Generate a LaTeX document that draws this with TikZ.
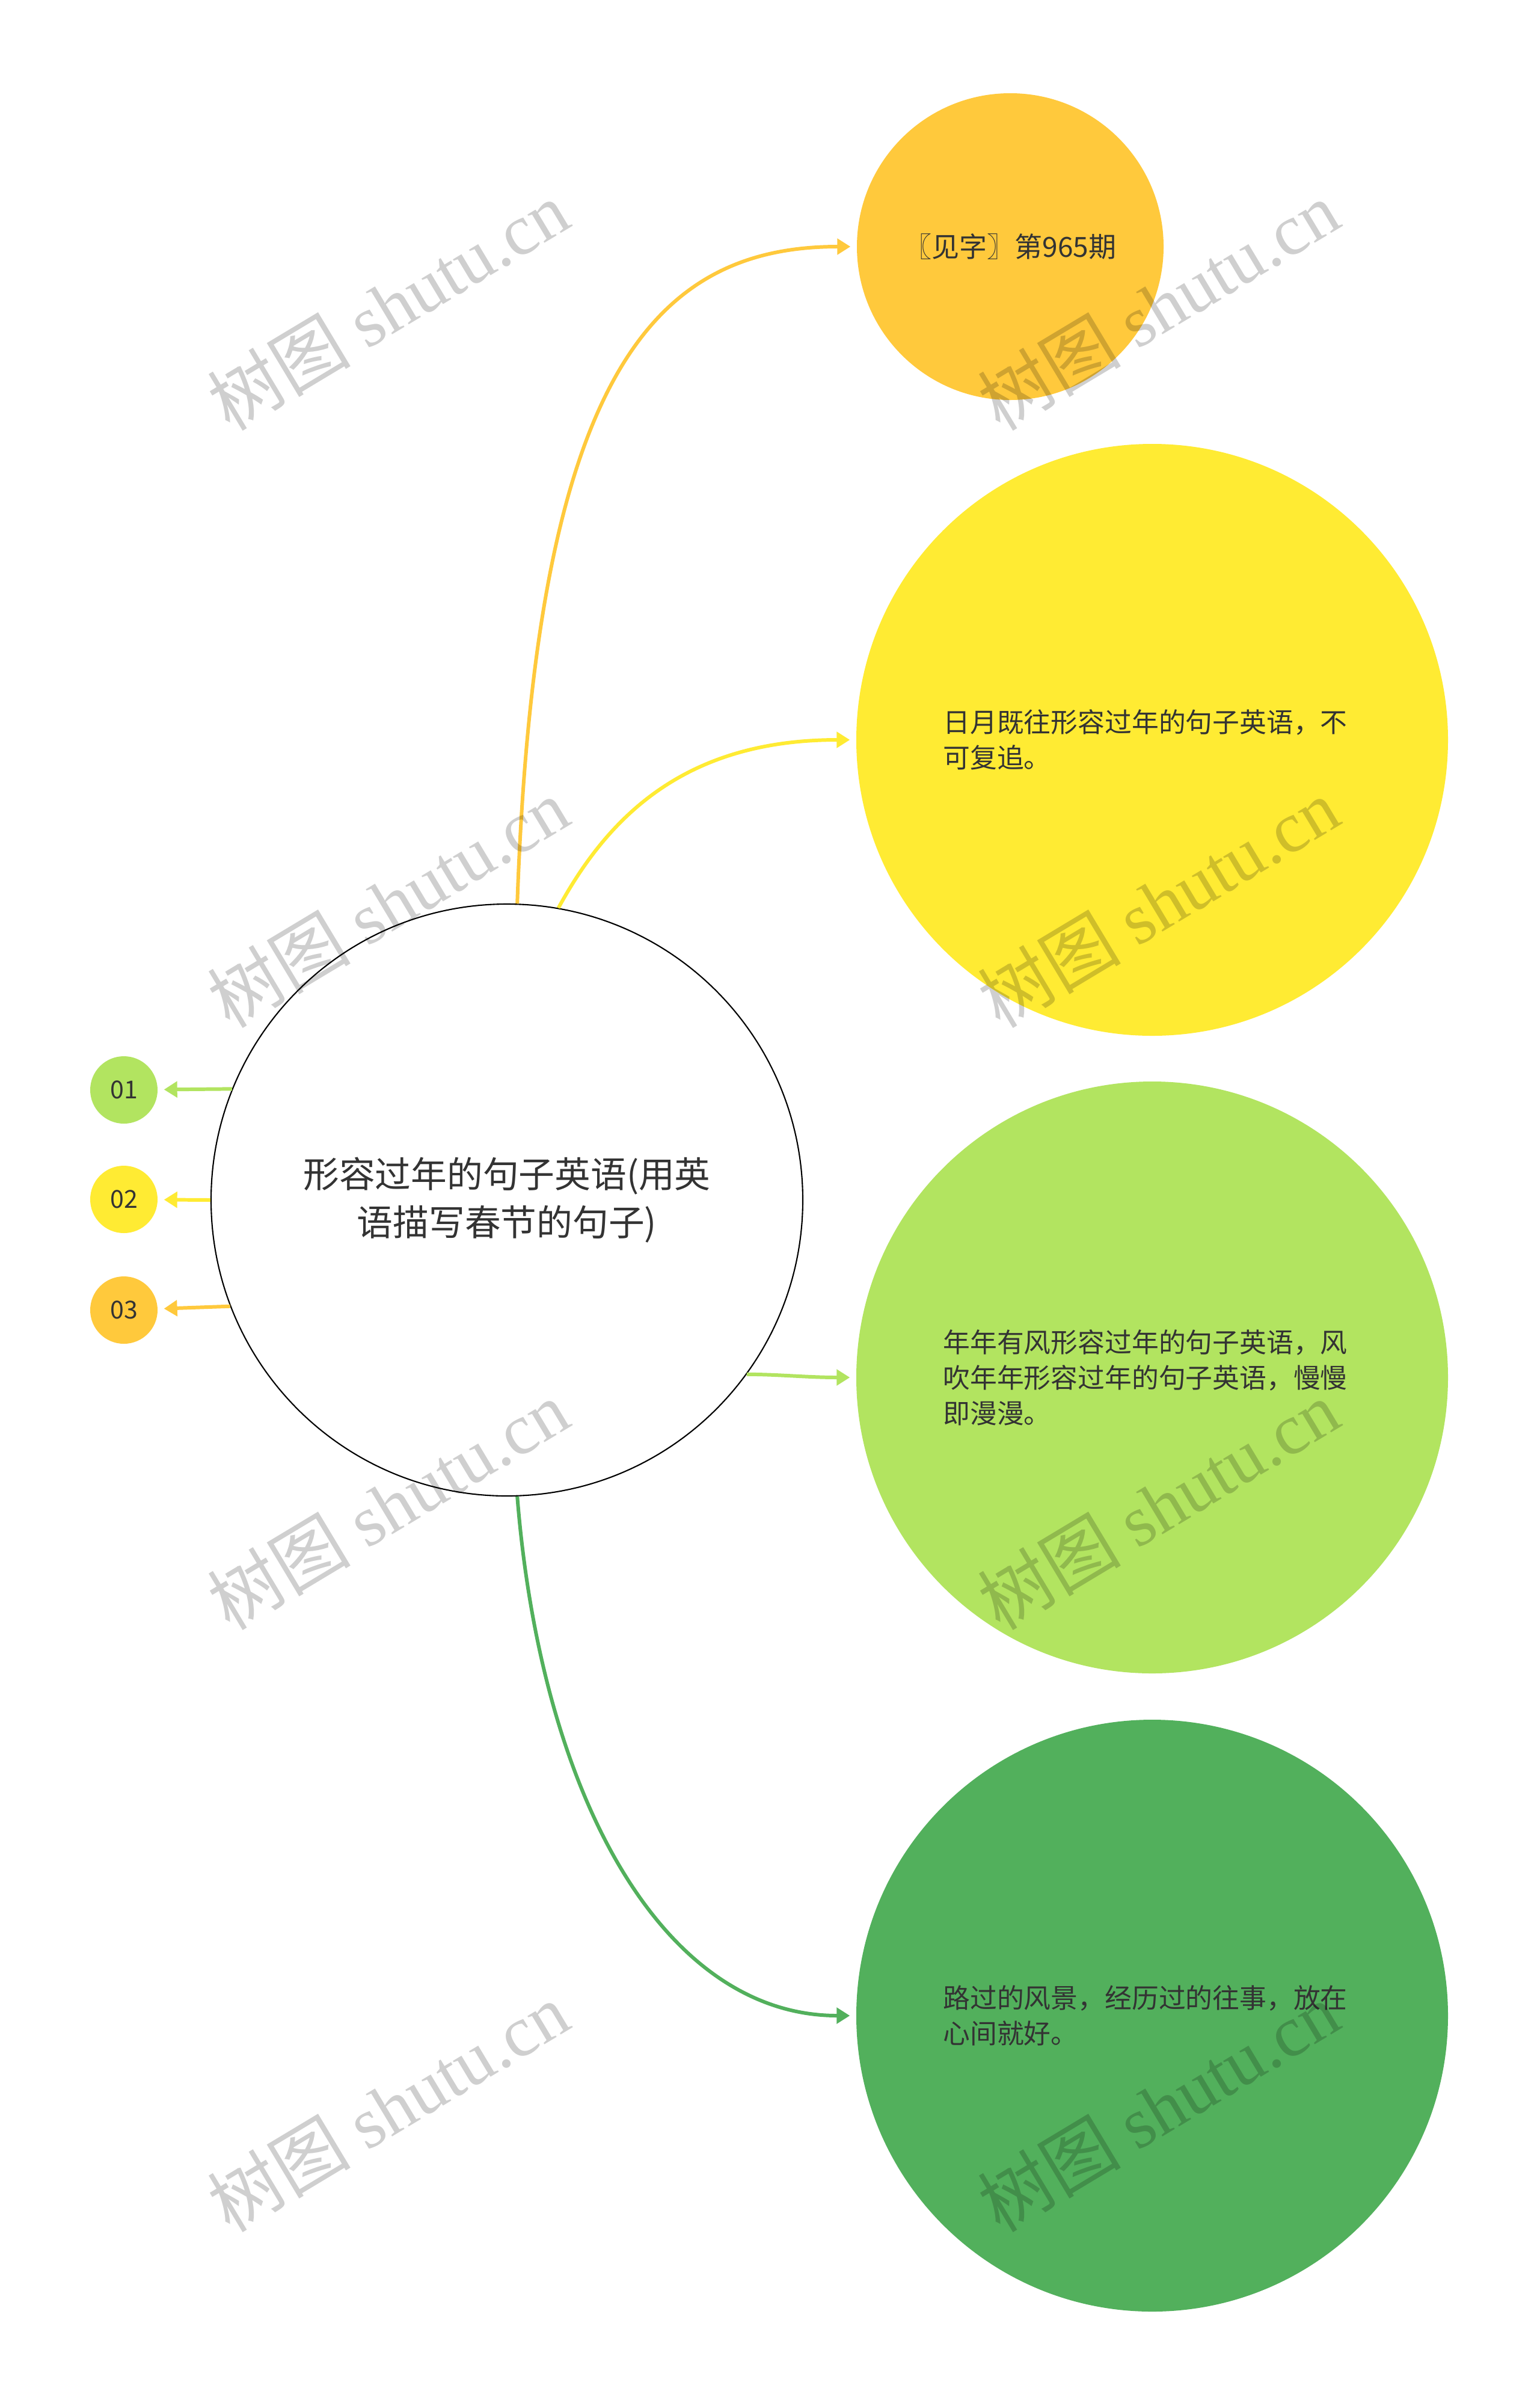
\documentclass[tikz,border=0pt]{standalone}
\usepackage{fontspec}
\setmainfont{Noto Sans CJK SC}
\newfontfamily\wmlatin{Liberation Serif}
\usepackage{tikz}
\usetikzlibrary{arrows.meta,calc}
\definecolor{stOrange}{RGB}{255,201,60}
\definecolor{stYellow}{RGB}{255,235,51}
\definecolor{stLime}{RGB}{178,228,96}
\definecolor{stGreen}{RGB}{82,176,92}
\definecolor{stText}{RGB}{51,51,51}
\tikzset{
  rootnode/.style={circle, draw=black, line width=0.6pt, fill=white, minimum size=9.84cm,
    inner sep=0pt, align=center, text=stText, font=\fontsize{17}{22.5}\selectfont},
  topicnode/.style={circle, draw=none, minimum size=9.84cm, inner sep=0pt, text width=6.95cm,
    align=left, text=stText, font=\fontsize{12.75}{16.8}\selectfont},
  smalltopic/.style={circle, draw=none, minimum size=5.1cm, inner sep=0pt, align=center,
    text=stText, font=\fontsize{13.1}{16}\selectfont},
  indexnode/.style={circle, draw=none, minimum size=1.12cm, inner sep=0pt, text=stText,
    font=\fontsize{11.7}{14}\selectfont},
  linkarrow/.style={line width=1.7pt, -{Triangle[length=2.2mm,width=2.6mm]}, shorten >=1mm},
  watermark/.style={rotate=31, inner sep=0pt, text=black, text opacity=0.19,
    font=\fontsize{34}{34}\selectfont},
}

\begin{document}
\begin{tikzpicture}[x=1cm,y=1cm]
  \fill[white] (0,0) rectangle (25.60,-39.95);
  \useasboundingbox (0,0) rectangle (25.60,-39.95);

  % --- Root and topics ---
  \node[rootnode] (root) at (8.43,-19.95) {形容过年的句子英语(用英\\语描写春节的句子)};
  \node[smalltopic, fill=stOrange] (issue) at (16.80,-4.10) {〖见字〗第965期};
  \node[topicnode, fill=stYellow] (days) at (19.16,-12.30)
    {日月既往形容过年的句子英语，不\\可复追。};
  \node[topicnode, fill=stLime] (wind) at (19.16,-22.90)
    {年年有风形容过年的句子英语，风\\吹年年形容过年的句子英语，慢慢\\即漫漫。};
  \node[topicnode, fill=stGreen] (past) at (19.16,-33.51)
    {路过的风景，经历过的往事，放在\\心间就好。};

  % --- Index markers ---
  \node[indexnode, fill=stLime] (idx1) at (2.06,-18.12) {01};
  \node[indexnode, fill=stYellow] (idx2) at (2.06,-19.94) {02};
  \node[indexnode, fill=stOrange] (idx3) at (2.06,-21.78) {03};

  % --- Links ---
  \draw[linkarrow, stOrange] (root.88) .. controls +(0.30,8.66) and +(-3.44,0) .. (issue.west);
  \draw[linkarrow, stYellow] (root.80) .. controls +(0.80,1.46) and +(-2.90,0) .. (days.west);
  \draw[linkarrow, stLime] (root.-36) .. controls +(0.50,0) and +(-0.80,0) .. (wind.west);
  \draw[linkarrow, stGreen] (root.272.7) .. controls +(0.40,-5.00) and +(-3.20,0) .. (past.west);
  \draw[linkarrow, stLime] (root.158.2) -- (idx1);
  \draw[linkarrow, stYellow] (root.180) -- (idx2);
  \draw[linkarrow, stOrange] (root.201.8) -- (idx3);

  % --- Watermarks ---
  \foreach \wx/\wn in {6.45/l,19.26/r}
    \foreach \wy/\wk in {5.08/1,15.01/2,25.02/3,35.03/4}
      \node[watermark] (wm-\wn\wk) at (\wx,-\wy) {树图 {\wmlatin shutu.cn}};
\end{tikzpicture}
\end{document}
